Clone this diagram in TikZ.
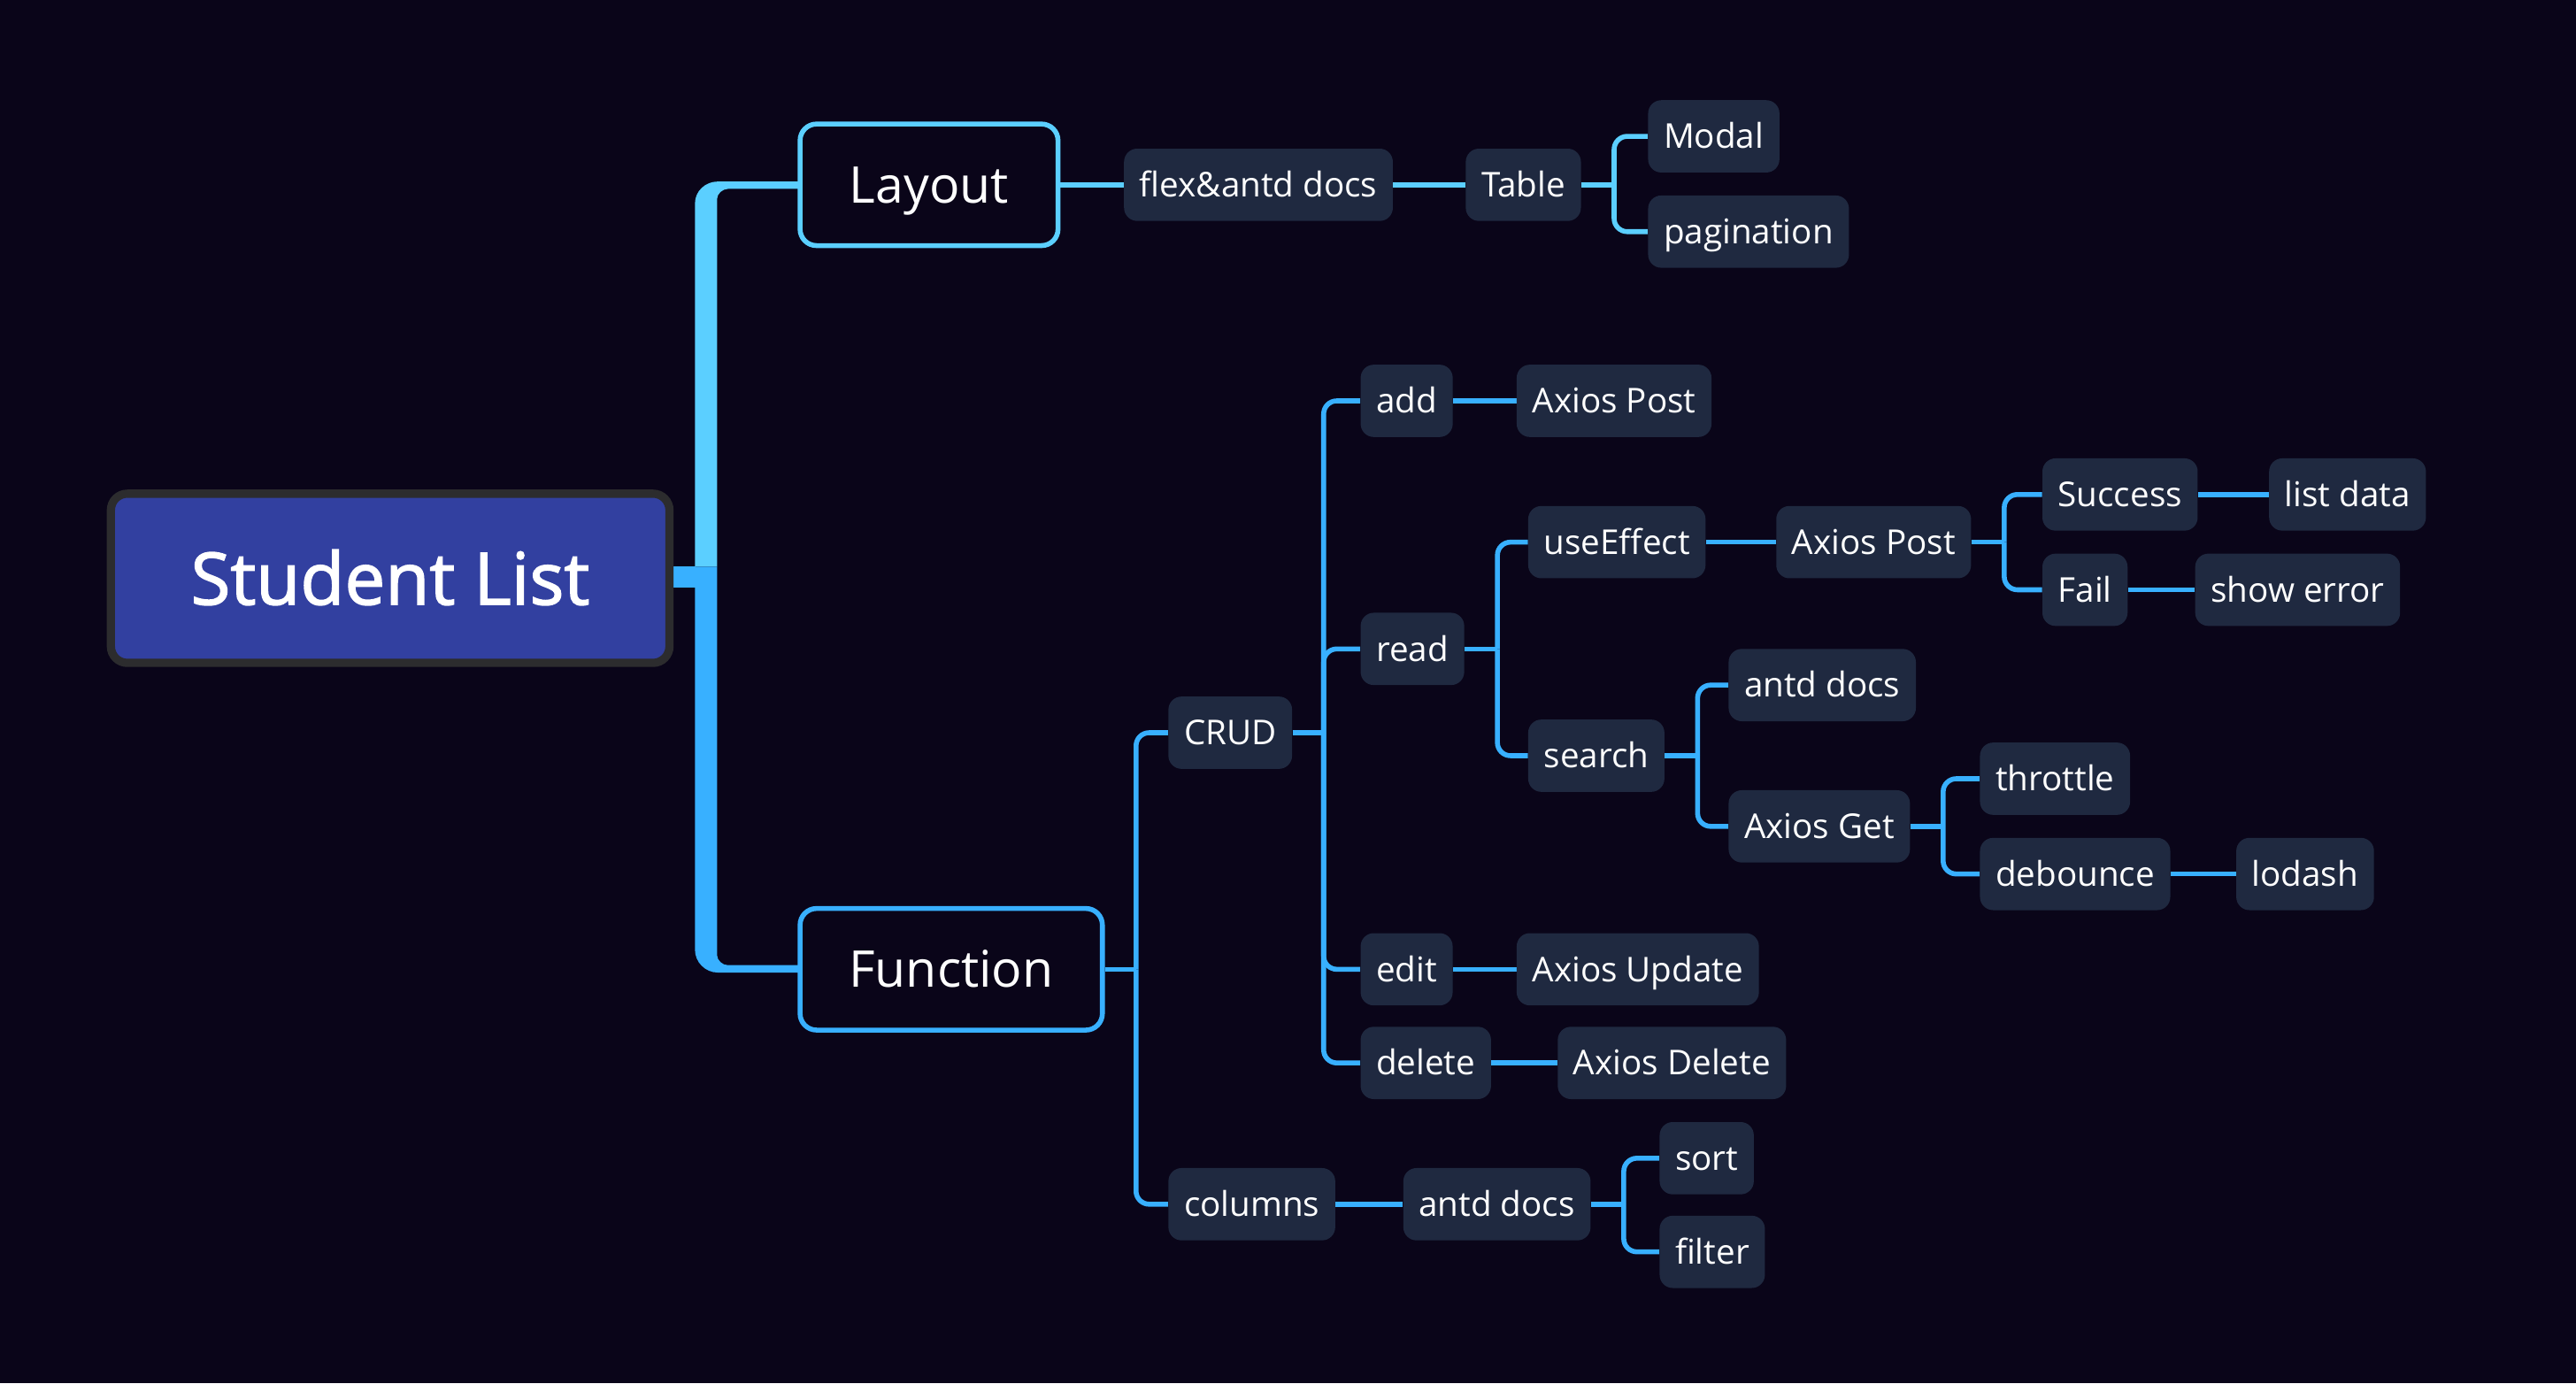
\documentclass[tikz,border=0pt]{standalone}
\usepackage{fontspec}
\setmainfont{Open Sans}
\newfontfamily\semib{Open Sans}[FakeBold=1.8]
\usetikzlibrary{calc}
\definecolor{bgc}{HTML}{0A0519}
\definecolor{nodec}{HTML}{1F2940}
\definecolor{rootc}{HTML}{3240A0}
\definecolor{rootb}{HTML}{2C2C2E}
\definecolor{cyanc}{HTML}{5BCFFF}
\definecolor{bluec}{HTML}{38B0FF}
\pgfdeclarelayer{back}
\pgfdeclarelayer{lines}
\pgfsetlayers{back,lines,main}
\begin{document}
\begin{tikzpicture}[x=1pt,y=-1pt,
  leaf/.style={fill=nodec, rounded corners=8pt, text=white, anchor=west,
    minimum height=44pt, inner xsep=9.5pt, inner ysep=0pt,
    text height=14.8pt, text depth=0pt,
    font=\fontsize{20.8pt}{24pt}\selectfont},
  mainbox/.style={draw, line width=3pt, fill=bgc, rounded corners=10pt,
    text=white, minimum height=74pt, inner sep=0pt,
    text height=22pt, text depth=0pt,
    font=\fontsize{30.8pt}{36pt}\selectfont},
  connL/.style={draw=cyanc, line width=3pt, rounded corners=8pt},
  connF/.style={draw=bluec, line width=3pt, rounded corners=8pt},
]
\useasboundingbox (0,0) rectangle (1568,842);
\begin{pgfonlayer}{back}
\fill[bgc] (0,0) rectangle (1568,842);
\end{pgfonlayer}

% main nodes
\node[draw=rootb, line width=5pt, fill=rootc, rounded corners=10pt,
  minimum width=340pt, minimum height=103pt, inner sep=0pt, text=white,
  text height=32pt, text depth=0pt,
  font=\fontsize{44pt}{50pt}\semib] (root) at (237.5,352) {Student List};
\node[mainbox, draw=cyanc, minimum width=157pt] (Layout) at (565.5,112.5) {Layout};
\node[mainbox, draw=bluec, minimum width=184pt] (Function) at (579,590) {Function};

% Layout subtree
\node[leaf] (flex) at (684,112.5) {flex\&antd docs};
\node[leaf] (Table) at (892,112.5) {Table};
\node[leaf] (Modal) at (1003,83) {Modal};
\node[leaf] (pagination) at (1003,141) {pagination};

% Function subtree
\node[leaf] (CRUD) at (711,446) {CRUD};
\node[leaf] (columns) at (711,733) {columns};
\node[leaf] (add) at (828,244) {add};
\node[leaf] (read) at (828,395) {read};
\node[leaf] (edit) at (828,590) {edit};
\node[leaf] (delete) at (828,647) {delete};
\node[leaf] (post1) at (923,244) {Axios Post};
\node[leaf] (update) at (923,590) {Axios Update};
\node[leaf] (adelete) at (948,647) {Axios Delete};
\node[leaf] (useEffect) at (930,330) {useEffect};
\node[leaf] (search) at (930,460) {search};
\node[leaf] (post2) at (1081,330) {Axios Post};
\node[leaf] (success) at (1243,301) {Success};
\node[leaf] (fail) at (1243,359) {Fail};
\node[leaf] (listdata) at (1381,301) {list data};
\node[leaf] (showerror) at (1336,359) {show error};
\node[leaf] (antd1) at (1052,417) {antd docs};
\node[leaf] (get) at (1052,503) {Axios Get};
\node[leaf] (throttle) at (1205,474) {throttle};
\node[leaf] (debounce) at (1205,532) {debounce};
\node[leaf] (lodash) at (1361,532) {lodash};
\node[leaf] (antd2) at (854,733) {antd docs};
\node[leaf] (sort) at (1010,705) {sort};
\node[leaf] (filter) at (1010,762) {filter};

\begin{pgfonlayer}{lines}
% trunk
\fill[cyanc] (423,345) -- (423,124) .. controls (423,116.3) and (429.3,110.5) .. (437,110.5)
  -- (490,110.5) -- (490,115) -- (443,115) .. controls (439.7,115) and (436.5,118) .. (436.5,121)
  -- (436.5,345) -- cycle;
\fill[bluec] (423,345) -- (423,578) .. controls (423,585.7) and (429.3,592) .. (437,592)
  -- (490,592) -- (490,587.5) -- (443,587.5) .. controls (439.7,587.5) and (436.5,584.5) .. (436.5,581.5)
  -- (436.5,345) -- cycle;
\fill[bluec] (405,344.5) rectangle (423.5,357.5);

% Layout connectors
\draw[connL] (Layout.east) -- (flex.west);
\draw[connL] (flex.east) -- (Table.west);
\path (Table.east) ++(20,0) coordinate (jT);
\draw[connL] (Table.east) -- (jT);
\draw[connL] (jT) |- (Modal.west);
\draw[connL] (jT) |- (pagination.west);

% Function connectors
\path (Function.east) ++(19,0) coordinate (jF);
\draw[connF] (Function.east) -- (jF);
\draw[connF] (jF) |- (CRUD.west);
\draw[connF] (jF) |- (columns.west);

\path (CRUD.east) ++(19,0) coordinate (jC);
\draw[connF] (CRUD.east) -- (jC);
\draw[connF] (jC) |- (add.west);
\draw[connF] (jC) |- (read.west);
\draw[connF] (jC) |- (edit.west);
\draw[connF] (jC) |- (delete.west);

\draw[connF] (add.east) -- (post1.west);
\draw[connF] (edit.east) -- (update.west);
\draw[connF] (delete.east) -- (adelete.west);

\path (read.east) ++(20,0) coordinate (jR);
\draw[connF] (read.east) -- (jR);
\draw[connF] (jR) |- (useEffect.west);
\draw[connF] (jR) |- (search.west);

\draw[connF] (useEffect.east) -- (post2.west);
\path (post2.east) ++(20,0) coordinate (jP);
\draw[connF] (post2.east) -- (jP);
\draw[connF] (jP) |- (success.west);
\draw[connF] (jP) |- (fail.west);
\draw[connF] (success.east) -- (listdata.west);
\draw[connF] (fail.east) -- (showerror.west);

\path (search.east) ++(20,0) coordinate (jS);
\draw[connF] (search.east) -- (jS);
\draw[connF] (jS) |- (antd1.west);
\draw[connF] (jS) |- (get.west);

\path (get.east) ++(20,0) coordinate (jG);
\draw[connF] (get.east) -- (jG);
\draw[connF] (jG) |- (throttle.west);
\draw[connF] (jG) |- (debounce.west);
\draw[connF] (debounce.east) -- (lodash.west);

\draw[connF] (columns.east) -- (antd2.west);
\path (antd2.east) ++(20,0) coordinate (jA);
\draw[connF] (antd2.east) -- (jA);
\draw[connF] (jA) |- (sort.west);
\draw[connF] (jA) |- (filter.west);
\end{pgfonlayer}
\end{tikzpicture}
\end{document}
